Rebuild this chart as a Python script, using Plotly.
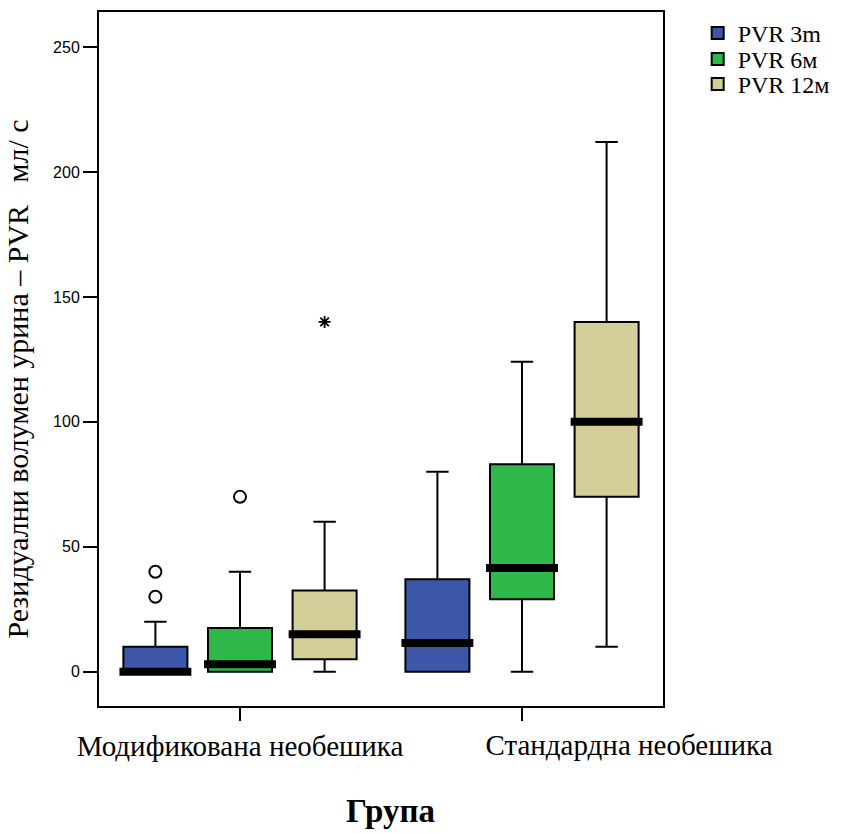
import plotly.graph_objects as go

NB = "\u00a0"
groups = ["Модификована необешика", "Стандардна необешика"]
series = ["PVR 3m", "PVR 6м", "PVR 12м"]
colors = ["#3d57a8", "#2fb84a", "#d4cf98"]

# per series: values for [Модификована, Стандардна]
q1 = {"PVR 3m": [0, 0], "PVR 6м": [0, 29], "PVR 12м": [5, 70]}
median = {"PVR 3m": [0, 11.5], "PVR 6м": [3, 41.5], "PVR 12м": [15, 100]}
q3 = {"PVR 3m": [10, 37], "PVR 6м": [17.5, 83], "PVR 12м": [32.5, 140]}
lower = {"PVR 3m": [0, 0], "PVR 6м": [0, 0], "PVR 12м": [0, 10]}
upper = {"PVR 3m": [20, 80], "PVR 6м": [40, 124], "PVR 12м": [60, 212]}

# outliers (circle) and extremes (star): (group index, series, value)
outliers = [(0, "PVR 3m", 30), (0, "PVR 3m", 40), (0, "PVR 6м", 70)]
extremes = [(0, "PVR 12м", 140)]

y_ticks = [0, 50, 100, 150, 200, 250]

offset = 0.3
box_w = 0.227
med_w = 0.255
x_range = [-0.5, 1.5]

def pos(g, s):
    return g + (series.index(s) - 1) * offset

legend_names = ["legend", "legend2", "legend3"]

fig = go.Figure()
for s, c, lg in zip(series, colors, legend_names):
    xs = [pos(g, s) for g in range(len(groups))]
    fig.add_trace(go.Box(
        x=xs, q1=q1[s], median=median[s], q3=q3[s],
        lowerfence=lower[s], upperfence=upper[s],
        name=s, fillcolor=c, line=dict(color="black", width=2),
        width=box_w, whiskerwidth=0.35, boxpoints=False,
        hoverinfo="skip", legend=lg,
    ))
# thick median bars
for s in series:
    for g in range(len(groups)):
        x0 = pos(g, s)
        fig.add_trace(go.Scatter(
            x=[x0 - med_w / 2, x0 + med_w / 2], y=[median[s][g], median[s][g]],
            mode="lines", line=dict(color="black", width=8),
            showlegend=False, hoverinfo="skip",
        ))
fig.add_trace(go.Scatter(
    x=[pos(g, s) for g, s, v in outliers], y=[v for g, s, v in outliers],
    mode="markers", marker=dict(symbol="circle-open", size=12, color="black", line=dict(width=2)),
    showlegend=False, hoverinfo="skip",
))
fig.add_trace(go.Scatter(
    x=[pos(g, s) for g, s, v in extremes], y=[v for g, s, v in extremes],
    mode="markers", marker=dict(symbol="asterisk-open", size=10, color="black", line=dict(width=1.8, color="black")),
    showlegend=False, hoverinfo="skip",
))
# empty trace so the overlay axis carrying the second group label is drawn
fig.add_trace(go.Scatter(x=[], y=[], xaxis="x2", yaxis="y", showlegend=False, hoverinfo="skip"))

leg_font = dict(family="Liberation Serif", size=24, color="black")
plot_top, plot_bottom = 12, 706
leg_centers = [33.5, 59.5, 84.5]
legends = {}
for lg, yc in zip(legend_names, leg_centers):
    legends[lg] = dict(x=1.0615, y=(plot_bottom - yc) / (plot_bottom - plot_top),
                       xanchor="left", yanchor="middle", font=leg_font,
                       bgcolor="rgba(0,0,0,0)", itemwidth=30)

ghost = '<span style="color:rgba(0,0,0,0)">{}</span>'
tick_font = dict(family="Liberation Serif", size=29, color="black")

fig.update_layout(
    width=843, height=833,
    margin=dict(l=99, r=180, t=12, b=127, autoexpand=False),
    plot_bgcolor="white", paper_bgcolor="white",
    showlegend=True,
    **legends,
    xaxis=dict(range=x_range, tickvals=list(range(len(groups))), ticktext=[groups[0], ""],
               tickangle=0, automargin=False,
               showline=True, linecolor="black", linewidth=2, mirror=True,
               ticks="outside", ticklen=13, tickwidth=1.5, tickcolor="black",
               showgrid=False, zeroline=False, tickfont=tick_font,
               title=dict(text=ghost.format("Г") + "<b>Група</b>",
                          font=dict(family="Liberation Serif", size=33, color="black"), standoff=38)),
    # second-group label, printed to the right of its tick as in the source
    xaxis2=dict(overlaying="x", matches="x", anchor="y", side="bottom", range=x_range,
                tickvals=[1], ticktext=[groups[1]], ticklabelshift=107,
                tickangle=0, automargin=False,
                ticks="outside", ticklen=13, tickcolor="rgba(0,0,0,0)",
                showline=False, showgrid=False, zeroline=False, tickfont=tick_font),
    yaxis=dict(range=[-13.7, 264], tickvals=y_ticks, automargin=False,
               showline=True, linecolor="black", linewidth=2, mirror=True,
               ticks="outside", ticklen=14, tickwidth=2, tickcolor="black",
               showgrid=False, zeroline=False,
               tickfont=dict(family="Liberation Sans", size=16, color="black"),
               title=dict(text="Резидуални волумен урина – PVR " + NB + " мл/ с" + ghost.format("ссс"),
                          font=dict(family="Liberation Serif", size=30, color="black"), standoff=16)),
)
fig.write_html("out.html")
